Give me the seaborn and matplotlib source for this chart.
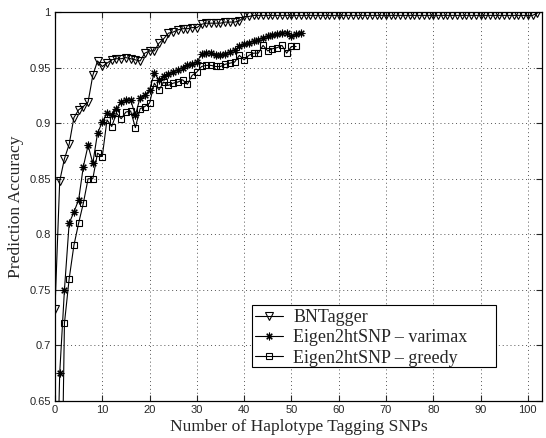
import matplotlib
matplotlib.use('Agg')
import matplotlib.pyplot as plt
import matplotlib.ticker as mticker
from matplotlib.patches import Rectangle
import seaborn as sns

# BNTagger accuracy, one value per number of tag SNPs (0..102)
bn_x = list(range(0, 103))
bn_acc = [0.733, 0.848, 0.868, 0.881, 0.905, 0.912, 0.915, 0.919, 0.943, 0.956,
          0.951, 0.954, 0.957, 0.958, 0.958, 0.959, 0.958, 0.957, 0.956, 0.963,
          0.965, 0.965, 0.972, 0.976, 0.981, 0.982, 0.984, 0.985, 0.985, 0.986,
          0.986, 0.989, 0.990, 0.990, 0.990, 0.990, 0.991, 0.991, 0.991, 0.992,
          0.996, 0.996, 0.997, 0.997, 0.997, 0.997, 0.997, 0.997, 0.997, 0.997,
          0.997, 0.997, 0.997, 0.997, 0.997, 0.997, 0.997, 0.997, 0.997, 0.997,
          0.997, 0.997, 0.997, 0.997, 0.997, 0.997, 0.997, 0.997, 0.997, 0.997,
          0.997, 0.997, 0.997, 0.997, 0.997, 0.997, 0.997, 0.997, 0.997, 0.997,
          0.997, 0.997, 0.997, 0.997, 0.997, 0.997, 0.997, 0.997, 0.997, 0.997,
          0.997, 0.997, 0.997, 0.997, 0.997, 0.997, 0.997, 0.997, 0.997, 0.997,
          0.997, 0.997, 0.999]

# Eigen2htSNP - varimax (0..52)
vm_x = list(range(0, 53))
vm_acc = [0.500, 0.675, 0.750, 0.810, 0.820, 0.831, 0.861, 0.880, 0.864, 0.891,
          0.901, 0.909, 0.907, 0.913, 0.919, 0.921, 0.921, 0.907, 0.923, 0.925,
          0.930, 0.945, 0.939, 0.942, 0.944, 0.946, 0.948, 0.950, 0.952, 0.953,
          0.955, 0.962, 0.963, 0.963, 0.961, 0.961, 0.962, 0.964, 0.966, 0.969,
          0.971, 0.972, 0.974, 0.975, 0.977, 0.978, 0.979, 0.980, 0.981, 0.981,
          0.978, 0.980, 0.981]

# Eigen2htSNP - greedy (1..51)
gr_x = list(range(1, 52))
gr_acc = [0.440, 0.720, 0.760, 0.790, 0.810, 0.828, 0.850, 0.850, 0.873, 0.870,
          0.903, 0.897, 0.909, 0.904, 0.910, 0.911, 0.896, 0.913, 0.915, 0.918,
          0.936, 0.930, 0.937, 0.934, 0.936, 0.937, 0.939, 0.935, 0.943, 0.946,
          0.951, 0.952, 0.952, 0.951, 0.951, 0.953, 0.954, 0.955, 0.961, 0.957,
          0.961, 0.963, 0.963, 0.970, 0.965, 0.967, 0.968, 0.970, 0.963, 0.969,
          0.969]

sns.set_style("ticks")
plt.rcParams['font.family'] = ['Liberation Sans', 'DejaVu Sans']
plt.rcParams['xtick.direction'] = 'in'
plt.rcParams['ytick.direction'] = 'in'

fig = plt.figure(figsize=(5.46, 4.38), dpi=100)
ax = fig.add_axes([0.1007, 0.0845, 0.892, 0.888])

ax.grid(True, linestyle=(0, (1, 3)), color='#555555', linewidth=0.7)
ax.set_axisbelow(True)

common = dict(color='black', linewidth=0.8, markerfacecolor='none',
              markeredgecolor='black', markeredgewidth=0.8, ax=ax)
sns.lineplot(x=bn_x, y=bn_acc, marker='v', markersize=6,
             label='BNTagger', **common)
sns.lineplot(x=vm_x, y=vm_acc, marker=(8, 2, 0), markersize=5.5,
             label='Eigen2htSNP \u2013 varimax', **common)
sns.lineplot(x=gr_x, y=gr_acc, marker='s', markersize=5,
             label='Eigen2htSNP \u2013 greedy', **common)

ax.set_xlim(0, 103)
ax.set_ylim(0.65, 1.0)
ax.set_xticks(range(0, 101, 10))
ax.set_yticks([0.65, 0.7, 0.75, 0.8, 0.85, 0.9, 0.95, 1.0])
ax.yaxis.set_major_formatter(mticker.FormatStrFormatter('%g'))
ax.tick_params(labelsize=8, top=True, right=True, length=4, width=0.8, pad=3)
for s in ax.spines.values():
    s.set_visible(True)
    s.set_linewidth(0.9)
    s.set_color('black')

serif = ['Liberation Serif', 'DejaVu Serif']
ax.set_xlabel('Number of Haplotype Tagging SNPs', family=serif, fontsize=12.6, labelpad=2.5)
ax.set_ylabel('Prediction Accuracy', family=serif, fontsize=12.6, labelpad=4)

leg = ax.legend(loc='center left', bbox_to_anchor=(0.404, 0.162),
                prop={'family': serif, 'size': 13}, frameon=False,
                borderpad=0.2, labelspacing=0.17, numpoints=1,
                handlelength=1.55, handletextpad=0.55, borderaxespad=0)
ax.add_patch(Rectangle((0.4045, 0.0874), 0.501, 0.1594, transform=ax.transAxes,
                       facecolor='white', edgecolor='black', linewidth=0.8, zorder=4))
leg.set_zorder(5)

fig.savefig('out.png', dpi=100)
